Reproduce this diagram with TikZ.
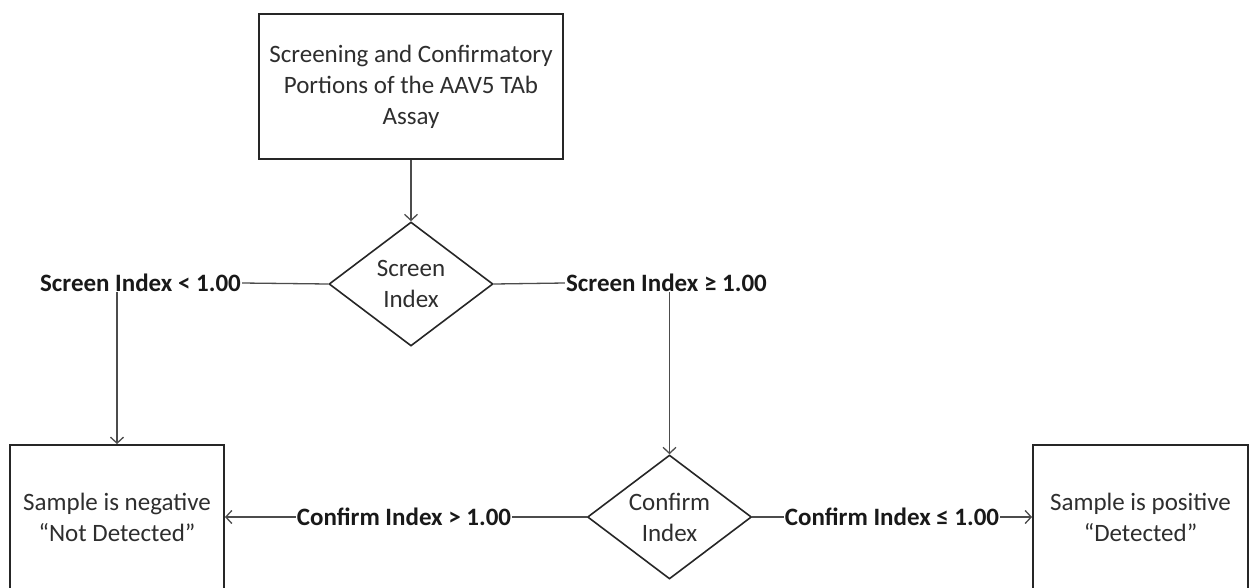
\documentclass[tikz,border=0pt]{standalone}
\usepackage{fontspec}
\setmainfont{Carlito}
\usetikzlibrary{shapes.geometric,arrows.meta}
\begin{document}
\begin{tikzpicture}[x=1pt,y=-1pt,
  every node/.style={font=\fontsize{25}{31}\selectfont, text=black!82},
  box/.style={draw=black!85, line width=1.9pt, rectangle, inner sep=0pt, align=center},
  dec/.style={draw=black!85, line width=1.6pt, diamond, aspect=1.32, inner sep=0pt,
              minimum width=164pt, minimum height=124pt, align=center},
  lab/.style={font=\fontsize{25}{31}\selectfont\bfseries, text=black!90, inner xsep=1pt, inner ysep=2pt},
  conn/.style={draw=black!70, line width=1.3pt},
  arr/.style={conn, -{Straight Barb[length=6pt,width=13pt,line width=1.3pt]}}]
\useasboundingbox (0,0) rectangle (1251,587);
\fill[white] (0,0) rectangle (1251,587);
\node[box, minimum width=304pt, minimum height=145pt] (top) at (411,86.5)
  {Screening and Confirmatory\\Portions of the AAV5 TAb\\Assay};
\node[dec] (scr) at (411,284) {Screen\\Index};
\node[lab] (l1) at (140.5,283) {Screen Index < 1.00};
\node[lab] (l2) at (666.5,283) {Screen Index ≥ 1.00};
\node[box, minimum width=214pt, minimum height=144pt] (neg) at (117,517)
  {Sample is negative\\“Not Detected”};
\node[box, minimum width=215pt, minimum height=144pt] (pos) at (1140.5,517)
  {Sample is positive\\“Detected”};
\node[dec] (conf) at (669.5,517) {Confirm\\Index};
\node[lab] (l3) at (404,517) {Confirm Index > 1.00};
\node[lab] (l4) at (892,517) {Confirm Index ≤ 1.00};
\draw[arr] (top.south) -- (scr.north);
\draw[conn] (scr.west) -- (l1.east);
\draw[conn] (scr.east) -- (l2.west);
\draw[arr] ([yshift=2pt]l1.south -| neg.north) -- (neg.north);
\draw[arr] ([yshift=2pt]l2.south -| conf.north) -- (conf.north);
\draw[conn] (conf.west) -- (l3.east);
\draw[arr] (l3.west) -- (neg.east);
\draw[conn] (conf.east) -- (l4.west);
\draw[arr] (l4.east) -- (pos.west);
\end{tikzpicture}
\end{document}
